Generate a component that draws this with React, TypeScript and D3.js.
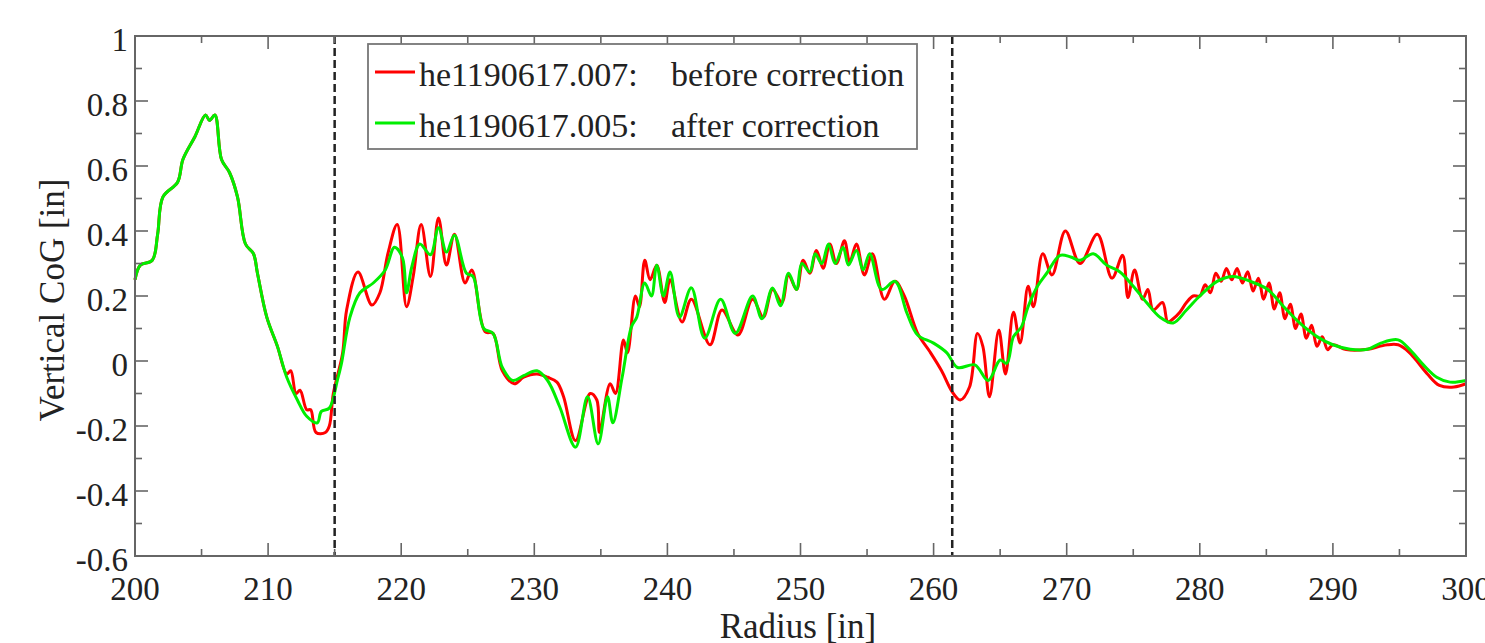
import React from "react";
import * as d3 from "d3";

const redX = [200.0,200.4,201.3,201.7,202.1,203.2,203.6,204.5,205.3,205.6,206.0,206.5,207.1,207.7,208.3,208.9,209.2,209.9,210.7,211.4,211.7,212.1,212.4,212.9,213.2,213.6,214.3,214.6,214.9,215.6,215.9,216.75,217.8,218.4,219.0,219.7,220.4,220.9,221.5,222.2,222.8,223.4,224.0,224.8,225.3,226.3,226.9,227.6,228.5,229.2,230.2,231.0,231.7,232.2,233.1,234.2,234.7,234.9,235.7,236.1,236.7,237.0,237.6,237.9,238.3,238.7,239.2,239.8,240.2,241.1,241.8,243.2,244.1,245.3,246.4,247.2,247.9,248.6,249.1,249.7,250.2,250.7,251.2,251.7,252.2,252.7,253.3,253.7,254.2,254.8,255.4,256.3,257.1,257.8,258.8,259.7,260.6,261.4,262.0,262.7,263.3,263.7,264.2,264.9,265.4,266.0,266.5,267.1,267.5,268.2,268.9,269.9,271.0,272.3,273.4,274.2,274.6,275.1,275.7,276.1,276.5,277.2,277.6,278.0,278.5,279.0,279.5,280.0,280.4,280.8,281.2,281.6,282.0,282.4,282.8,283.2,283.6,284.0,284.4,284.8,285.2,285.6,286.0,286.4,286.8,287.2,287.6,288.0,288.4,288.8,289.2,289.6,290.0,291.0,292.6,293.5,294.1,294.9,295.5,296.1,297.1,298.0,299.1,300.0];
const redY = [0.25,0.295,0.31,0.39,0.505,0.55,0.62,0.69,0.757,0.74,0.757,0.62,0.58,0.505,0.36,0.33,0.27,0.135,0.045,-0.04,-0.03,-0.1,-0.09,-0.15,-0.15,-0.22,-0.22,-0.2,-0.1,0.025,0.157,0.274,0.172,0.21,0.33,0.42,0.167,0.26,0.42,0.26,0.44,0.295,0.39,0.24,0.28,0.09,0.085,-0.03,-0.07,-0.05,-0.04,-0.05,-0.065,-0.11,-0.245,-0.1,-0.12,-0.22,-0.07,-0.1,0.065,0.025,0.2,0.167,0.31,0.25,0.295,0.18,0.25,0.12,0.19,0.05,0.157,0.08,0.19,0.135,0.22,0.18,0.265,0.22,0.31,0.27,0.34,0.285,0.36,0.3,0.37,0.305,0.36,0.265,0.33,0.19,0.245,0.2,0.085,0.03,-0.03,-0.095,-0.12,-0.08,0.085,0.045,-0.11,0.095,-0.04,0.15,0.055,0.23,0.167,0.33,0.265,0.4,0.3,0.39,0.255,0.325,0.195,0.28,0.19,0.22,0.157,0.18,0.12,0.13,0.15,0.18,0.2,0.2,0.235,0.21,0.27,0.245,0.285,0.25,0.285,0.24,0.275,0.215,0.255,0.19,0.24,0.16,0.21,0.13,0.175,0.1,0.145,0.07,0.11,0.045,0.075,0.035,0.05,0.035,0.036,0.045,0.05,0.05,0.035,0.01,-0.04,-0.075,-0.08,-0.07];

const greenX = [200.0,200.4,201.3,201.7,202.1,203.2,203.6,204.5,205.3,205.6,206.0,206.5,207.1,207.7,208.3,208.9,209.2,209.9,210.7,211.4,212.2,212.9,213.7,214.0,214.6,215.2,215.5,216.15,216.9,217.9,218.8,219.5,220.1,220.4,220.8,221.4,222.2,222.8,223.4,224.0,224.9,225.4,226.2,226.9,227.6,228.4,229.2,230.2,231.0,231.9,233.1,234.0,234.8,235.5,235.9,236.6,237.3,237.7,238.3,238.8,239.2,239.7,240.2,240.9,241.8,242.8,244.0,245.1,246.4,247.1,247.9,248.5,249.1,249.7,250.1,250.7,251.1,251.6,252.1,252.6,253.2,253.6,254.2,254.7,255.2,256.1,257.1,258.0,258.8,260.0,261.0,261.8,263.1,264.1,265.0,265.5,266.0,266.6,267.1,267.8,268.5,269.5,270.3,271.0,272.0,273.0,274.0,275.0,276.0,277.0,278.0,279.0,280.0,281.3,282.5,283.8,285.1,286.3,287.5,288.8,290.0,291.3,292.6,293.6,294.9,295.8,296.8,297.8,298.8,300.0];
const greenY = [0.25,0.295,0.31,0.39,0.505,0.55,0.62,0.69,0.757,0.74,0.757,0.62,0.58,0.505,0.36,0.33,0.27,0.135,0.045,-0.05,-0.12,-0.17,-0.19,-0.155,-0.145,-0.06,-0.01,0.135,0.21,0.24,0.28,0.35,0.317,0.21,0.29,0.36,0.327,0.41,0.335,0.387,0.27,0.26,0.1,0.085,-0.02,-0.06,-0.045,-0.03,-0.06,-0.14,-0.265,-0.11,-0.255,-0.11,-0.19,-0.05,0.105,0.135,0.24,0.2,0.295,0.2,0.274,0.135,0.225,0.07,0.19,0.085,0.2,0.13,0.225,0.17,0.27,0.22,0.3,0.274,0.33,0.3,0.36,0.3,0.35,0.295,0.34,0.28,0.33,0.22,0.245,0.147,0.08,0.055,0.025,-0.02,-0.012,-0.06,0.003,-0.007,0.075,0.105,0.167,0.23,0.27,0.325,0.32,0.31,0.33,0.295,0.274,0.23,0.18,0.135,0.117,0.157,0.2,0.245,0.26,0.245,0.22,0.167,0.117,0.075,0.05,0.036,0.036,0.055,0.065,0.034,-0.012,-0.05,-0.065,-0.06];

const xTicksMajor = [200,210,220,230,240,250,260,270,280,290,300];
const xTicksMinor = [205,215,225,235,245,255,265,275,285,295];
const yTicksMajor = [-0.6,-0.4,-0.2,0,0.2,0.4,0.6,0.8,1];
const yTicksMinor = [-0.5,-0.3,-0.1,0.1,0.3,0.5,0.7,0.9];
const yTickLabels = ["-0.6","-0.4","-0.2","0","0.2","0.4","0.6","0.8","1"];
const dashedX = [215, 261.4];
const legendLabels = ["he1190617.007:", "he1190617.005:"];
const legendDesc = ["before correction", "after correction"];

const W = 1485, H = 643;
const L = 135, R = 1466, T = 36, B = 556;
const FONT = "\"Liberation Serif\"";

export default function App() {
  const x = d3.scaleLinear().domain([200, 300]).range([L, R]);
  const y = d3.scaleLinear().domain([-0.6, 1]).range([B, T]);
  const line = d3.line<[number, number]>().x(d => x(d[0])).y(d => y(d[1])).curve(d3.curveCatmullRom.alpha(0.5));
  const red = redX.map((v, i) => [v, redY[i]] as [number, number]);
  const green = greenX.map((v, i) => [v, greenY[i]] as [number, number]);
  const axisColor = "#666";
  const txt = "#222";
  const ts = { fontFamily: FONT };
  return (
    <svg width={W} height={H} style={{ position: "absolute", left: 0, top: 0, background: "#fff" }}>
      <rect x={0} y={0} width={W} height={H} fill="#fff" />
      <path d={line(red) || ""} fill="none" stroke="#ff0000" strokeWidth={3} strokeLinejoin="round" />
      <path d={line(green) || ""} fill="none" stroke="#00ee00" strokeWidth={3} strokeLinejoin="round" />
      {dashedX.map((d, i) => (
        <line key={"dl" + i} x1={x(d)} x2={x(d)} y1={T} y2={B} stroke="#222" strokeWidth={2.5} strokeDasharray="8,4" />
      ))}
      <rect x={L} y={T} width={R - L} height={B - T} fill="none" stroke={axisColor} strokeWidth={2} />
      {xTicksMajor.map((t, i) => (
        <g key={"xm" + i}>
          <line x1={x(t)} x2={x(t)} y1={B} y2={B - 13} stroke={axisColor} strokeWidth={1.6} />
          <line x1={x(t)} x2={x(t)} y1={T} y2={T + 13} stroke={axisColor} strokeWidth={1.6} />
          <text x={x(t)} y={600} textAnchor="middle" fontSize={33} fill={txt} style={ts}>{t}</text>
        </g>
      ))}
      {xTicksMinor.map((t, i) => (
        <g key={"xn" + i}>
          <line x1={x(t)} x2={x(t)} y1={B} y2={B - 7} stroke={axisColor} strokeWidth={1.6} />
          <line x1={x(t)} x2={x(t)} y1={T} y2={T + 7} stroke={axisColor} strokeWidth={1.6} />
        </g>
      ))}
      {yTicksMajor.map((t, i) => (
        <g key={"ym" + i}>
          <line x1={L} x2={L + 13} y1={y(t)} y2={y(t)} stroke={axisColor} strokeWidth={1.6} />
          <line x1={R} x2={R - 13} y1={y(t)} y2={y(t)} stroke={axisColor} strokeWidth={1.6} />
          <text x={128} y={y(t) + 15} textAnchor="end" fontSize={33} fill={txt} style={ts}>{yTickLabels[i]}</text>
        </g>
      ))}
      {yTicksMinor.map((t, i) => (
        <g key={"yn" + i}>
          <line x1={L} x2={L + 7} y1={y(t)} y2={y(t)} stroke={axisColor} strokeWidth={1.6} />
          <line x1={R} x2={R - 7} y1={y(t)} y2={y(t)} stroke={axisColor} strokeWidth={1.6} />
        </g>
      ))}
      <text x={798} y={638} textAnchor="middle" fontSize={35} fill={txt} style={ts}>Radius [in]</text>
      <text transform={`translate(64, 300) rotate(-90)`} textAnchor="middle" fontSize={35} fill={txt} style={ts}>Vertical CoG [in]</text>
      <rect x={368} y={44} width={549} height={105} fill="#fff" stroke="#777" strokeWidth={1.8} />
      {legendLabels.map((lab, i) => (
        <g key={"lg" + i}>
          <line x1={375} x2={415} y1={72 + i * 51} y2={72 + i * 51} stroke={i === 0 ? "#ff0000" : "#00ee00"} strokeWidth={3} />
          <text x={419} y={86 + i * 51} fontSize={34} fill={txt} style={ts}>{lab}</text>
          <text x={671} y={86 + i * 51} fontSize={34} fill={txt} style={ts}>{legendDesc[i]}</text>
        </g>
      ))}
    </svg>
  );
}
